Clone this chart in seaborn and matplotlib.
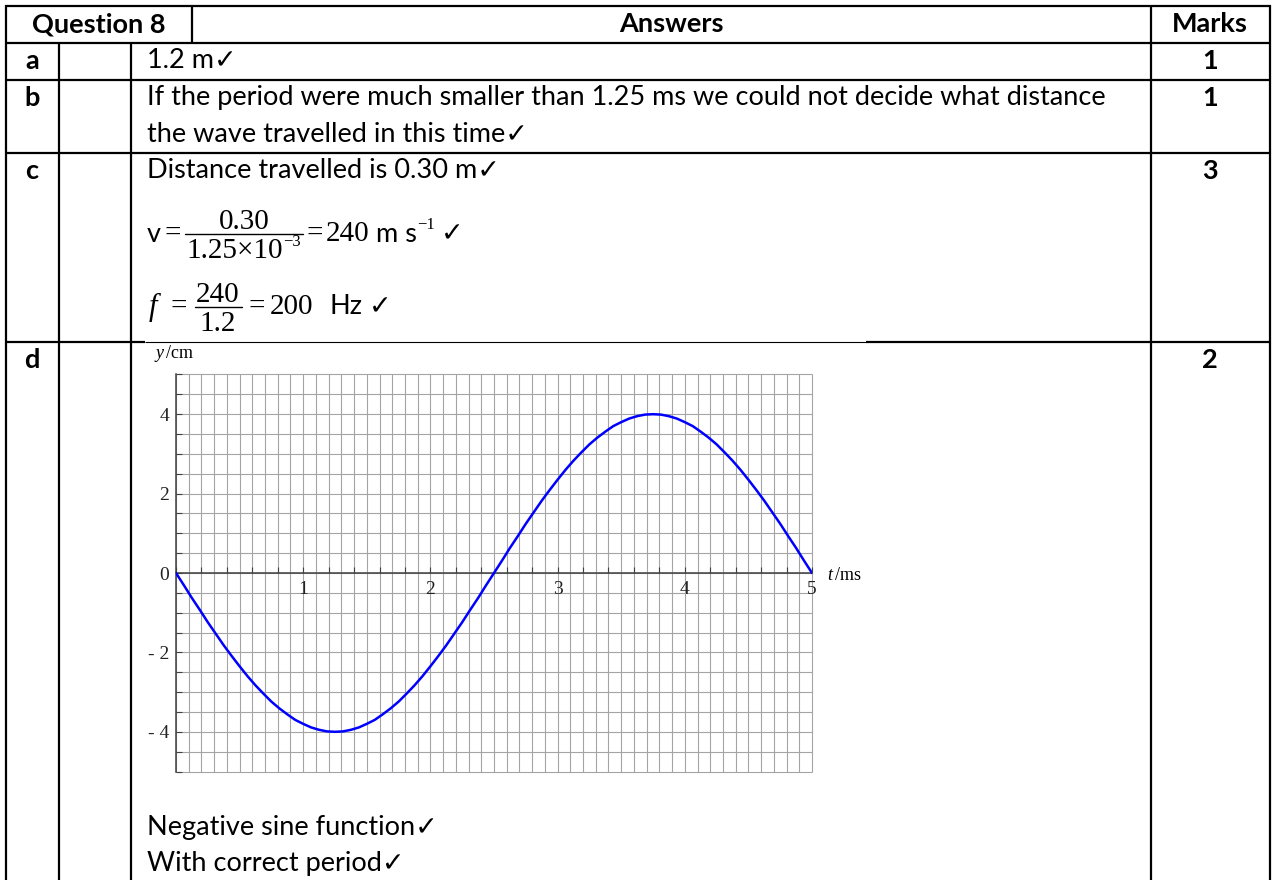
import matplotlib

matplotlib.use('Agg')
import matplotlib.pyplot as plt
import numpy as np
import seaborn as sns
from matplotlib.ticker import FuncFormatter, MultipleLocator

# wave drawn in part d (t in ms, y in cm), one point every 1/16 ms
t_ms = [i / 16 for i in range(81)]
y_cm = [0.0, -0.31, -0.63, -0.93, -1.24, -1.53, -1.82, -2.09, -2.35, -2.60,
        -2.83, -3.04, -3.24, -3.41, -3.56, -3.70, -3.80, -3.89, -3.95, -3.99,
        -4.0, -3.99, -3.95, -3.89, -3.80, -3.70, -3.56, -3.41, -3.24, -3.04,
        -2.83, -2.60, -2.35, -2.09, -1.82, -1.53, -1.24, -0.93, -0.63, -0.31,
        0.0, 0.31, 0.63, 0.93, 1.24, 1.53, 1.82, 2.09, 2.35, 2.60,
        2.83, 3.04, 3.24, 3.41, 3.56, 3.70, 3.80, 3.89, 3.95, 3.99,
        4.0, 3.99, 3.95, 3.89, 3.80, 3.70, 3.56, 3.41, 3.24, 3.04,
        2.83, 2.60, 2.35, 2.09, 1.82, 1.53, 1.24, 0.93, 0.63, 0.31, 0.0]

headers = ['Question 8', 'Answers', 'Marks']
row_labels = ['a', 'b', 'c', 'd']
row_marks = ['1', '1', '3', '2']
answer_a = '1.2 m\u2713'
answer_b = ['If the period were much smaller than 1.25 ms we could not decide what distance',
            'the wave travelled in this time\u2713']
answer_c = 'Distance travelled is 0.30 m\u2713'
answer_d = ['Negative sine function\u2713', 'With correct period\u2713']

sns.set_theme(style='white')
plt.rcParams['font.family'] = ['Lato', 'DejaVu Sans']
SERIF = ['Liberation Serif', 'DejaVu Serif']
BODY = 19.5
EQ = 21

fig = plt.figure(figsize=(12.72, 8.8), dpi=100)
page = fig.add_axes([0, 0, 1, 1])
page.set_xlim(0, 1272)
page.set_ylim(880, 0)
page.axis('off')
renderer = fig.canvas.get_renderer()


def put(x, y, s, **kw):
    kw.setdefault('va', 'center')
    kw.setdefault('fontsize', BODY)
    t = page.text(x, y, s, color='black', **kw)
    return x + t.get_window_extent(renderer).width


def hline(y, x0, x1, lw=1.6):
    page.plot([x0, x1], [y, y], color='black', lw=lw, solid_capstyle='butt')


def vline(x, y0, y1, lw=1.6):
    page.plot([x, x], [y0, y1], color='black', lw=lw, solid_capstyle='butt')


# table frame
for y in [6, 43, 80, 153]:
    hline(y, 5, 1271)
hline(342, 5, 145)
hline(342, 145, 866, lw=0.8)
hline(342, 866, 1271)
vline(6, 5, 880)
vline(59, 43, 880)
vline(131, 43, 880)
vline(192, 5, 43)
vline(1151, 5, 880)
vline(1270, 5, 880)

# header and row labels
put(99, 24, headers[0], ha='center', weight='bold')
put(671, 24, headers[1], ha='center', weight='bold')
put(1210, 24, headers[2], ha='center', weight='bold')
for lab, mk, yy in zip(row_labels, row_marks, [61, 98, 171, 360]):
    put(32, yy, lab, ha='center', weight='bold')
    put(1210, yy, mk, ha='center', weight='bold')

put(147, 61, answer_a)
put(147, 98, answer_b[0])
put(147, 134, answer_b[1])
put(147, 171, answer_c)

# v = 0.30 / 1.25x10^-3 = 240 m s^-1
bar = 234
x = put(147, bar, 'v')
x = put(x + 4, bar, '=', family=SERIF, fontsize=EQ)
bar_l = x + 4
x = put(bar_l + 1, bar + 24, '1.25\u00d710', family=SERIF, fontsize=EQ, va='baseline')
x = put(x, bar + 12, '\u22123', family=SERIF, fontsize=12, va='baseline')
bar_r = x + 2
page.plot([bar_l, bar_r], [bar, bar], color='black', lw=1)
put((bar_l + bar_r) / 2, bar - 5, '0.30', family=SERIF, fontsize=EQ, ha='center', va='baseline')
x = put(bar_r + 4, bar, '=', family=SERIF, fontsize=EQ)
x = put(x + 3, bar, '240', family=SERIF, fontsize=EQ)
x = put(x + 6, bar, 'm s')
x = put(x + 1, bar - 9, '\u22121', family=SERIF, fontsize=12)
put(x + 6, bar, '\u2713')

# f = 240 / 1.2 = 200 Hz
bar = 307
put(149, bar, 'f', family=SERIF, fontsize=EQ + 1, style='italic')
put(179, bar, '=', family=SERIF, fontsize=EQ, ha='center')
page.plot([195, 242], [bar, bar], color='black', lw=1)
put(218, bar - 5, '240', family=SERIF, fontsize=EQ, ha='center', va='baseline')
put(218, bar + 24, '1.2', family=SERIF, fontsize=EQ, ha='center', va='baseline')
put(257, bar, '=', family=SERIF, fontsize=EQ, ha='center')
put(270, bar, '200', family=SERIF, fontsize=EQ)
x = put(330, bar, 'Hz')
put(x + 6, bar, '\u2713')

put(147, 827, answer_d[0])
put(147, 863, answer_d[1])

# graph paper for part d
ax = fig.add_axes([176 / 1272, (880 - 771.5) / 880, 636 / 1272, 397 / 880])
ax.set_facecolor('white')
ax.vlines(np.arange(0, 5.05, 0.1), -5, 5, color='#a4a4a4', lw=0.8, zorder=0, clip_on=False)
ax.hlines(np.arange(-5, 5.05, 0.5), 0, 5, color='#a4a4a4', lw=0.8, zorder=0, clip_on=False)
sns.lineplot(x=t_ms, y=y_cm, ax=ax, color='#0000ff', lw=1.8, zorder=3)
ax.set_xlim(0, 5)
ax.set_ylim(-5, 5)
for side in ['top', 'right']:
    ax.spines[side].set_visible(False)
ax.spines['bottom'].set_position(('data', 0))
for side in ['left', 'bottom']:
    ax.spines[side].set_color('#404040')
    ax.spines[side].set_linewidth(1.1)
    ax.spines[side].set_zorder(2)

ax.xaxis.set_major_locator(MultipleLocator(1))
ax.xaxis.set_minor_locator(MultipleLocator(0.2))
ax.yaxis.set_major_locator(MultipleLocator(2))
ax.yaxis.set_minor_locator(MultipleLocator(0.5))
ax.xaxis.set_major_formatter(FuncFormatter(lambda v, _: '' if v == 0 else f'{v:.0f}'))
ax.yaxis.set_major_formatter(FuncFormatter(lambda v, _: f'- {-v:.0f}' if v < 0 else f'{v:.0f}'))
ax.tick_params(which='both', direction='in', length=4, width=0.8, color='#404040',
               labelsize=14, labelcolor='#222222', bottom=True, left=True)
ax.tick_params(axis='x', pad=6)
ax.tick_params(axis='y', pad=5)
for lbl in ax.get_xticklabels() + ax.get_yticklabels():
    lbl.set_fontfamily(SERIF)
ax.set_xlabel('')
ax.set_ylabel('')

put(160, 353, 'y', family=SERIF, fontsize=13, style='italic', ha='center')
put(166, 353, '/cm', family=SERIF, fontsize=13)
put(830, 575, 't', family=SERIF, fontsize=13, style='italic', ha='center')
put(835, 575, '/ms', family=SERIF, fontsize=13)

fig.savefig('out.png', dpi=100)
plt.close(fig)
